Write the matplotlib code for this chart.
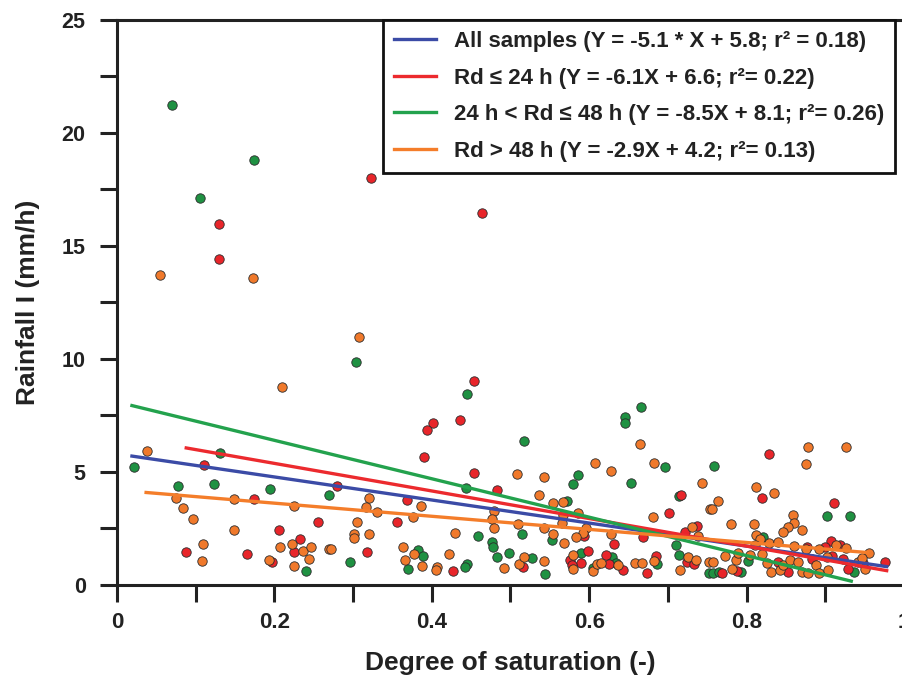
"""Rainfall intensity vs degree of saturation, grouped by rain duration."""

import matplotlib
matplotlib.use("Agg")
import matplotlib.pyplot as plt
import numpy as np
from matplotlib.ticker import MultipleLocator

plt.rcParams["font.family"] = ["Liberation Sans", "DejaVu Sans"]
plt.rcParams["font.weight"] = "bold"

# scatter samples (degree of saturation, rainfall I in mm/h)
green_pts = [
    (0.0695, 21.25), (0.174, 18.82), (0.105, 17.11), (0.304, 9.85), (0.0216, 5.21),
    (0.131, 5.83), (0.078, 4.38), (0.1237, 4.48), (0.1944, 4.26), (0.27, 3.97),
    (0.2397, 0.62), (0.4443, 8.44), (0.4439, 4.31), (0.4583, 2.17), (0.4765, 1.92),
    (0.4774, 1.67), (0.2965, 1.03), (0.382, 1.55), (0.3888, 1.27), (0.37, 0.72),
    (0.4443, 0.93), (0.442, 0.80), (0.4832, 1.25), (0.4985, 1.42), (0.6654, 7.86),
    (0.6455, 7.45), (0.6455, 7.15), (0.5175, 6.39), (0.6967, 5.21), (0.5853, 4.87),
    (0.579, 4.47), (0.6527, 4.51), (0.5718, 3.70), (0.7137, 3.92), (0.5523, 1.98),
    (0.5142, 2.26), (0.7103, 1.76), (0.5273, 1.18), (0.5443, 0.49), (0.5896, 1.42),
    (0.6044, 0.74), (0.629, 1.25), (0.634, 0.99), (0.6857, 0.92), (0.7137, 1.34),
    (0.752, 0.52), (0.7582, 5.28), (0.902, 3.04), (0.931, 3.04), (0.8212, 2.11),
    (0.7577, 0.55), (0.765, 0.59), (0.7933, 0.56), (0.8022, 1.06), (0.9365, 0.59),
]
red_pts = [
    (0.130, 15.97), (0.130, 14.42), (0.3227, 18.0), (0.464, 16.46), (0.4536, 9.03),
    (0.110, 5.30), (0.1745, 3.82), (0.2554, 2.77), (0.2054, 2.45), (0.088, 1.46),
    (0.1648, 1.36), (0.1965, 1.00), (0.232, 2.02), (0.2245, 1.45), (0.2795, 4.39),
    (0.401, 7.18), (0.3943, 6.84), (0.4358, 7.31), (0.39, 5.65), (0.454, 4.96),
    (0.4825, 4.19), (0.369, 3.75), (0.3554, 2.79), (0.3177, 1.46), (0.4265, 0.62),
    (0.7166, 4.0), (0.701, 3.19), (0.5934, 2.18), (0.632, 1.83), (0.6687, 2.14),
    (0.7221, 2.36), (0.737, 2.61), (0.5163, 0.81), (0.599, 1.52), (0.576, 1.09),
    (0.589, 0.99), (0.5777, 0.88), (0.621, 1.34), (0.625, 0.93), (0.643, 0.68),
    (0.6734, 0.55), (0.6845, 1.28), (0.7238, 1.03), (0.7336, 0.92), (0.8288, 5.78),
    (0.819, 3.84), (0.9115, 3.63), (0.877, 1.70), (0.9072, 1.93), (0.9187, 1.77),
    (0.9, 1.70), (0.9754, 1.00), (0.769, 0.52), (0.7873, 0.63), (0.8395, 1.03),
    (0.853, 0.59), (0.8834, 1.14), (0.908, 1.30), (0.9229, 1.15), (0.929, 0.69),
    (0.948, 0.96),
]
orange_pts = [
    (0.0546, 13.70), (0.1724, 13.60), (0.3075, 10.99), (0.2097, 8.78), (0.0385, 5.92),
    (0.0745, 3.85), (0.0839, 3.41), (0.097, 2.91), (0.149, 3.79), (0.225, 3.48),
    (0.149, 2.45), (0.1097, 1.83), (0.108, 1.05), (0.1935, 1.09), (0.2075, 1.68),
    (0.222, 1.81), (0.2368, 1.49), (0.2465, 1.68), (0.2444, 1.15), (0.225, 0.84),
    (0.2694, 1.58), (0.5086, 4.93), (0.32, 3.86), (0.317, 3.44), (0.33, 3.24),
    (0.3863, 3.51), (0.3765, 3.02), (0.4795, 3.29), (0.476, 2.91), (0.479, 2.51),
    (0.509, 2.70), (0.305, 2.79), (0.3015, 2.26), (0.3015, 2.09), (0.32, 2.27),
    (0.43, 2.31), (0.2715, 1.61), (0.363, 1.70), (0.3774, 1.36), (0.366, 1.09),
    (0.3875, 0.86), (0.4215, 1.36), (0.4062, 0.81), (0.4053, 0.65), (0.4917, 0.77),
    (0.5108, 0.92), (0.664, 6.24), (0.543, 4.77), (0.6074, 5.40), (0.6273, 5.06),
    (0.6823, 5.41), (0.5358, 4.0), (0.554, 3.61), (0.5663, 3.66), (0.7433, 4.51),
    (0.6815, 3.01), (0.753, 3.35), (0.5663, 3.10), (0.5858, 3.17), (0.543, 2.54),
    (0.5658, 2.76), (0.596, 2.54), (0.592, 2.31), (0.583, 2.14), (0.5535, 2.26),
    (0.5684, 1.86), (0.6277, 2.24), (0.7302, 2.58), (0.7378, 2.18), (0.517, 1.24),
    (0.542, 1.08), (0.5794, 1.34), (0.5794, 0.71), (0.6052, 0.61), (0.6103, 0.93),
    (0.6146, 0.99), (0.6362, 0.87), (0.658, 0.99), (0.667, 0.99), (0.6823, 1.08),
    (0.725, 1.22), (0.7357, 1.11), (0.716, 0.68), (0.7526, 1.00), (0.8784, 6.12),
    (0.9259, 6.12), (0.8759, 5.34), (0.812, 4.35), (0.8344, 4.06), (0.7637, 3.73),
    (0.7564, 3.36), (0.859, 3.10), (0.86, 2.76), (0.8526, 2.58), (0.8467, 2.33),
    (0.8708, 2.42), (0.7802, 2.70), (0.809, 2.70), (0.8115, 2.21), (0.817, 2.05),
    (0.8288, 1.84), (0.8395, 1.92), (0.8107, 1.76), (0.8602, 1.74), (0.8755, 1.58),
    (0.8916, 1.59), (0.9132, 1.77), (0.9259, 1.62), (0.955, 1.40), (0.7725, 1.30),
    (0.7568, 1.00), (0.781, 0.69), (0.786, 1.11), (0.7886, 1.40), (0.8043, 1.33),
    (0.819, 1.36), (0.8256, 0.99), (0.831, 0.59), (0.8424, 0.66), (0.8467, 0.88),
    (0.8551, 1.11), (0.8657, 1.03), (0.87, 0.59), (0.8784, 0.52), (0.8877, 0.88),
    (0.892, 0.52), (0.9038, 0.66), (0.9018, 1.25), (0.9419, 1.03), (0.951, 0.71),
    (0.947, 1.18),
]

# linear fits Y = a*X + b, drawn over the range of each group
fit_labels = [
    "All samples (Y = -5.1 * X + 5.8; r\u00b2 = 0.18)",
    "Rd \u2264 24 h (Y = -6.1X + 6.6; r\u00b2= 0.22)",
    "24 h < Rd \u2264 48 h (Y = -8.5X + 8.1; r\u00b2= 0.26)",
    "Rd > 48 h (Y = -2.9X + 4.2; r\u00b2= 0.13)",
]
fit_slope = [-5.1, -6.1, -8.5, -2.9]
fit_intercept = [5.8, 6.6, 8.1, 4.2]
fit_xmin = [0.019, 0.088, 0.019, 0.037]
fit_xmax = [0.978, 0.978, 0.933, 0.954]
fit_colors = ["#3b4ba6", "#ec2a2e", "#23a24d", "#f47d2a"]

dot_colors = {"green": "#1f9142", "red": "#e8252a", "orange": "#f0792b"}


def main() -> None:
    fig = plt.figure(figsize=(9.02, 6.81), dpi=100)
    ax = fig.add_axes([0.1297, 0.141, 0.8725, 0.8297])

    for pts, key in [(green_pts, "green"), (red_pts, "red"), (orange_pts, "orange")]:
        arr = np.array(pts)
        ax.scatter(arr[:, 0], arr[:, 1], s=46, c=dot_colors[key],
                   edgecolors="#2b2b2b", linewidths=0.6, zorder=2)

    for i in range(len(fit_labels)):
        xs = np.array([fit_xmin[i], fit_xmax[i]])
        ax.plot(xs, fit_slope[i] * xs + fit_intercept[i], color=fit_colors[i],
                lw=2.4, label=fit_labels[i], zorder=3)

    ax.set_xlim(0, 1)
    ax.set_ylim(0, 25)
    ax.xaxis.set_major_locator(MultipleLocator(0.2))
    ax.xaxis.set_minor_locator(MultipleLocator(0.1))
    ax.yaxis.set_major_locator(MultipleLocator(5))
    ax.yaxis.set_minor_locator(MultipleLocator(2.5))
    ax.set_xticks([0, 0.2, 0.4, 0.6, 0.8, 1.0])
    ax.set_xticklabels(["0", "0.2", "0.4", "0.6", "0.8", "1"])

    for side in ax.spines.values():
        side.set_linewidth(2.2)
        side.set_color("#222222")
    ax.tick_params(which="both", direction="out", length=12.5, width=2.2,
                   color="#222222")
    ax.tick_params(axis="y", which="major", pad=10, labelsize=15.5, labelcolor="#222222")
    ax.tick_params(axis="x", which="major", pad=7, labelsize=16, labelcolor="#222222")

    ax.set_xlabel("Degree of saturation (-)", fontsize=19, fontweight="bold",
                  color="#222222", labelpad=13)
    ax.set_ylabel("Rainfall I (mm/h)", fontsize=19, fontweight="bold",
                  color="#222222", labelpad=16)

    leg = ax.legend(loc="upper right", bbox_to_anchor=(0.9886, 1.0), borderaxespad=0,
                    fancybox=False, framealpha=1, edgecolor="#111111",
                    prop={"size": 16, "weight": "bold"}, handlelength=1.9,
                    handletextpad=0.8, labelspacing=0.7, borderpad=0.5)
    leg.get_frame().set_linewidth(2.0)
    for text in leg.get_texts():
        text.set_color("#222222")

    fig.savefig("out.png", dpi=100)


if __name__ == "__main__":
    main()
